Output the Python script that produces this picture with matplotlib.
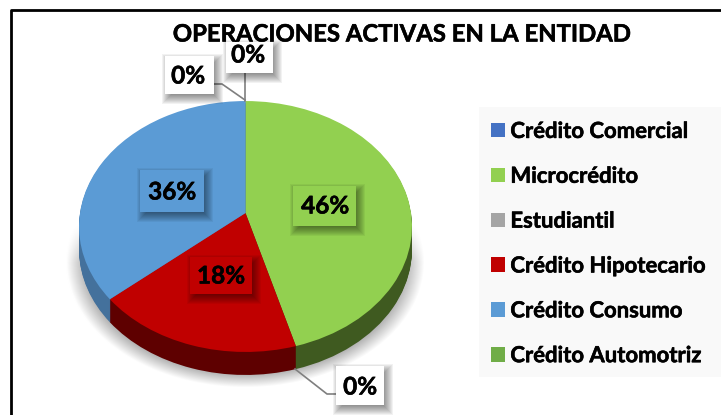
import numpy as np
import matplotlib
matplotlib.use('Agg')
import matplotlib.pyplot as plt
import matplotlib.patheffects as pe
from matplotlib.patches import Rectangle
from matplotlib.transforms import Transform

plt.rcParams['font.family'] = ['Lato', 'DejaVu Sans']

categories = ['Crédito Comercial', 'Microcrédito', 'Estudiantil',
              'Crédito Hipotecario', 'Crédito Consumo', 'Crédito Automotriz']
values = [0.0, 45.6, 0.0, 18.2, 36.2, 0.0]
colors = ['#4472c4', '#92d050', '#a5a5a5', '#c00000', '#5b9bd5', '#70ad47']
side_colors = ['#2f5090', '#3f5a20', '#777777', '#5e0000', '#44719c', '#4d7a30']
title = 'OPERACIONES ACTIVAS EN LA ENTIDAD'

# makes the Lato bold as heavy as the reference text
heavy = [pe.withStroke(linewidth=0.4, foreground='black')]


# tilted pie: unit circle goes to a perspective view, near edge bigger
class Tilt(Transform):
    input_dims = 2
    output_dims = 2
    has_inverse = False
    is_separable = False

    def __init__(self, dy=0):
        super().__init__()
        self.dy = dy

    def transform_non_affine(self, xy):
        xy = np.asarray(xy)
        w = 1 + 0.1076 * xy[:, 1]
        px = 245.5 + 165.5 * xy[:, 0] / w
        py = 213 - 124 * xy[:, 1] / w + self.dy
        return np.column_stack([px, py])


def soft_box(ax, x0, y0, x1, y1, color, z):
    # shadow first, then the box on top
    for g in range(6, -5, -1):
        ax.add_patch(Rectangle((x0 + 3 - g, y0 + 4 - g), x1 - x0 + 2 * g, y1 - y0 + 2 * g,
                               fc='black', ec='none', alpha=0.05, zorder=z))
    ax.add_patch(Rectangle((x0, y0), x1 - x0, y1 - y0, fc=color, ec='none', zorder=z + 0.1))


fig = plt.figure(figsize=(7.21, 4.15), dpi=100)
ax = fig.add_axes([0, 0, 1, 1])

# floor shadow under the pie
yy, xx = np.mgrid[0:415, 0:721]
r = np.sqrt(((xx - 245) / 179) ** 2 + ((yy - 262) / 125) ** 2)
shade = np.clip((1 - r) / 0.14, 0, 1) * np.clip((yy - 222) / 40, 0, 1) * 0.4
ax.imshow(shade, cmap='gray_r', vmin=0, vmax=1, extent=(0, 721, 415, 0), zorder=1, aspect='auto')

# side wall, stacked copies going up, then the top face
for d in range(23, 0, -1):
    wedges, _ = ax.pie(values, colors=side_colors, startangle=90, counterclock=False,
                       wedgeprops={'zorder': 2})
    for w in wedges:
        w.set_transform(Tilt(d) + ax.transData)
wedges, _ = ax.pie(values, colors=colors, startangle=90, counterclock=False,
                   wedgeprops={'zorder': 3})
for w in wedges:
    w.set_transform(Tilt() + ax.transData)

ax.set_aspect('auto')
ax.set_xlim(0, 721)
ax.set_ylim(415, 0)
ax.axis('off')

ax.text(401, 34, title, ha='center', va='center', fontsize=17.2, fontweight='bold',
        zorder=4, path_effects=heavy)

# leader lines for the 0% labels
ax.plot([245, 245], [101, 70], color='#7f7f7f', lw=1.2, zorder=5)
ax.plot([245, 222, 213], [100, 84, 84], color='#7f7f7f', lw=1.2, zorder=5)
ax.plot([295, 327, 340], [369, 394, 394], color='#7f7f7f', lw=1.2, zorder=5)

# data labels
lab_text = ['0%', '0%', '0%', '36%', '46%', '18%']
lab_x = [248, 188, 360, 172, 325, 221]
lab_y = [55, 76, 387, 192, 206, 276]
lab_box = [(226, 42, 273, 73), (165, 56, 214, 94), (336, 366, 384, 405),
           (140, 170, 204, 212), (293, 186, 356, 226), (190, 257, 252, 294)]
lab_col = ['white', 'white', 'white', colors[4], colors[1], colors[3]]
for t, x, y, b, c in zip(lab_text, lab_x, lab_y, lab_box, lab_col):
    soft_box(ax, *b, c, 6)
    ax.text(x, y, t, ha='center', va='center', fontsize=17.5, fontweight='bold', zorder=7,
            path_effects=heavy)

# legend on its pale panel
ax.add_patch(Rectangle((479, 107), 242, 270, fc='#f9f9f9', ec='none', zorder=1.5))
leg = ax.legend(wedges, categories, loc='upper left', bbox_to_anchor=(479 / 721, 1 - 109 / 415),
                frameon=False, fontsize=15.9, handlelength=0.63, handleheight=0.63,
                handletextpad=0.25, labelspacing=1.08, borderpad=0.54, borderaxespad=0)
for txt in leg.get_texts():
    txt.set_fontweight('bold')
    txt.set_path_effects(heavy)
leg.set_zorder(8)

# outer frame, only left and top lines show in the crop
ax.plot([11, 11, 721], [415, 10, 10], color='black', lw=2, zorder=9)

fig.savefig('out.png', dpi=100)
